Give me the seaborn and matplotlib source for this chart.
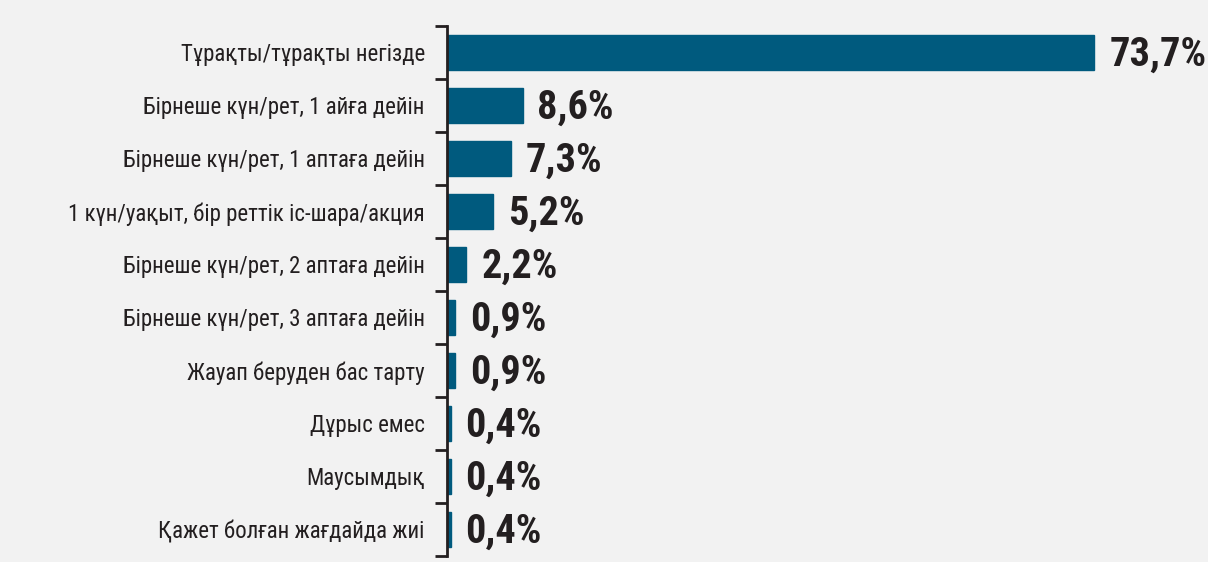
import matplotlib
matplotlib.use("Agg")
import matplotlib.pyplot as plt
import seaborn as sns
import pandas as pd
import numpy as np
from matplotlib import font_manager

categories = [
    "Тұрақты/тұрақты негізде",
    "Бірнеше күн/рет, 1 айға дейін",
    "Бірнеше күн/рет, 1 аптаға дейін",
    "1 күн/уақыт, бір реттік іс-шара/акция",
    "Бірнеше күн/рет, 2 аптаға дейін",
    "Бірнеше күн/рет, 3 аптаға дейін",
    "Жауап беруден бас тарту",
    "Дұрыс емес",
    "Маусымдық",
    "Қажет болған жағдайда жиі",
]
values = [73.7, 8.6, 7.3, 5.2, 2.2, 0.9, 0.9, 0.4, 0.4, 0.4]
value_labels = ["73,7%", "8,6%", "7,3%", "5,2%", "2,2%", "0,9%", "0,9%", "0,4%", "0,4%", "0,4%"]

df = pd.DataFrame({"cat": categories, "val": values})


def pick(cands, min_weight=0):
    fonts = font_manager.fontManager.ttflist
    for c in cands:
        for f in fonts:
            w = f.weight if isinstance(f.weight, int) else 400
            if f.name == c and w >= min_weight:
                return c
    return "DejaVu Sans"


label_font = pick(["Roboto Condensed", "Barlow Condensed", "IBM Plex Sans Condensed"])
value_font = pick(["Roboto Condensed", "Barlow Condensed", "IBM Plex Sans Condensed",
                   "Oswald"], min_weight=700)

sns.set_style("white")
plt.rcParams["font.family"] = [label_font, "DejaVu Sans"]

bg = "#f2f2f2"
dark = "#231f20"
fig = plt.figure(figsize=(12.08, 5.62), dpi=100, facecolor=bg)
ax = fig.add_axes([447 / 1208, 6 / 562, 1 - 447 / 1208, 530 / 562])
ax.set_facecolor(bg)

sns.barplot(data=df, x="val", y="cat", color="#005a7e", width=0.65, ax=ax,
            saturation=1, edgecolor="#005a7e")
ax.set_xlim(0, 760 / 8.77)
ax.set_ylim(len(categories) - 0.5, -0.5)
ax.set_xlabel("")
ax.set_ylabel("")
ax.set_xticks([])

for i, (v, lab) in enumerate(zip(values, value_labels)):
    ax.text(v + 1.7, i + 0.05, lab, va="center", ha="left", fontsize=29,
            fontweight="bold", color=dark, family=[value_font, "DejaVu Sans"])

for s in ["top", "right", "bottom"]:
    ax.spines[s].set_visible(False)
ax.spines["left"].set_linewidth(2)
ax.spines["left"].set_color(dark)

ax.set_yticks(np.arange(len(categories)), categories)
ax.set_yticks(np.arange(len(categories) + 1) - 0.5, minor=True)
ax.tick_params(axis="y", which="major", left=False, length=0, pad=16,
               labelsize=16.5, labelcolor=dark)
ax.tick_params(axis="y", which="minor", left=True, length=9, width=2, color=dark)

fig.savefig("out.png", dpi=100, facecolor=bg)
